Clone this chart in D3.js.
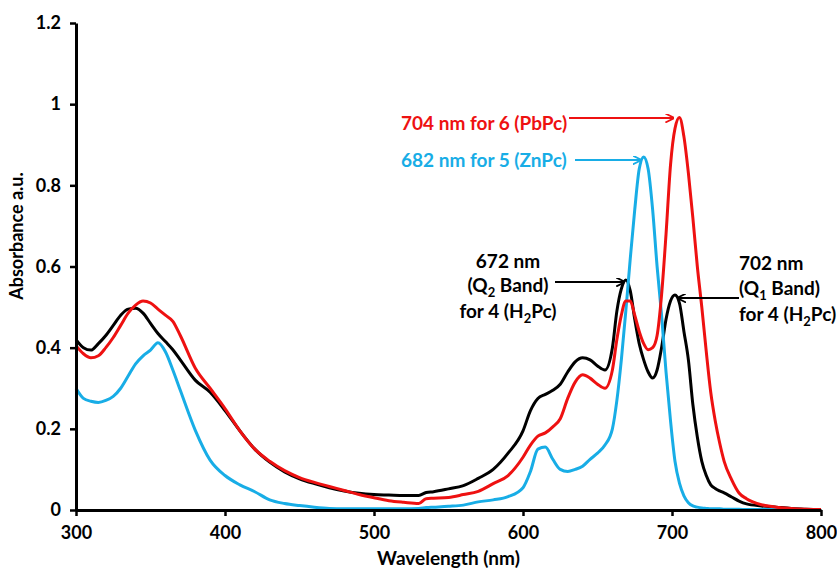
<!DOCTYPE html>
<html lang="en">
<head>
<meta charset="utf-8">
<title>Absorbance spectra</title>
<script src="https://cdn.jsdelivr.net/npm/d3@7/dist/d3.min.js"></script>
<style>
  body { margin: 0; background: #fff; }
  text { font-family: Lato, "Open Sans", sans-serif; font-weight: bold; }
</style>
</head>
<body>
<div id="chart"></div>
<script>
// wavelength grid (nm) shared by the three spectra
const wavelengths = [300,305,310,315,320,325,330,335,340,345,350,355,360,365,370,380,390,400,410,420,430,440,450,460,470,480,490,500,510,520,530,535,540,550,560,570,580,590,600,605,610,615,620,625,630,635,640,645,650,655,660,663,666,669,672,675,678,681,684,687,690,693,696,699,702,705,708,711,714,717,720,723,726,729,732,735,740,745,750,760,770,780,790,800];

// 4 (H2Pc) - black
const h2pc = [0.42,0.40,0.394,0.41,0.43,0.455,0.48,0.495,0.497,0.485,0.46,0.435,0.415,0.395,0.37,0.32,0.29,0.245,0.195,0.15,0.118,0.094,0.077,0.065,0.055,0.047,0.041,0.038,0.037,0.036,0.036,0.043,0.045,0.052,0.06,0.078,0.10,0.14,0.195,0.245,0.275,0.285,0.295,0.31,0.34,0.365,0.375,0.37,0.355,0.345,0.40,0.49,0.545,0.567,0.54,0.47,0.41,0.37,0.34,0.325,0.345,0.40,0.47,0.515,0.53,0.51,0.44,0.37,0.26,0.18,0.12,0.085,0.062,0.053,0.047,0.042,0.032,0.022,0.015,0.01,0.007,0.004,0.002,0.0];

// 6 (PbPc) - red
const pbpc = [0.405,0.385,0.375,0.38,0.40,0.425,0.455,0.485,0.505,0.515,0.51,0.495,0.48,0.465,0.43,0.35,0.30,0.25,0.195,0.15,0.12,0.097,0.08,0.068,0.058,0.048,0.038,0.03,0.023,0.019,0.016,0.028,0.029,0.031,0.038,0.046,0.065,0.085,0.13,0.16,0.182,0.19,0.205,0.225,0.275,0.315,0.333,0.325,0.31,0.30,0.345,0.42,0.48,0.515,0.515,0.48,0.44,0.41,0.395,0.40,0.43,0.53,0.68,0.85,0.94,0.967,0.92,0.83,0.72,0.60,0.50,0.39,0.29,0.22,0.165,0.12,0.075,0.042,0.028,0.013,0.007,0.004,0.002,0.001];

// 5 (ZnPc) - blue
const znpc = [0.30,0.275,0.268,0.265,0.27,0.28,0.30,0.33,0.36,0.38,0.394,0.412,0.39,0.345,0.295,0.197,0.123,0.085,0.062,0.045,0.025,0.016,0.011,0.007,0.004,0.003,0.003,0.003,0.003,0.003,0.004,0.006,0.007,0.009,0.012,0.02,0.025,0.033,0.055,0.095,0.15,0.155,0.125,0.10,0.095,0.10,0.108,0.125,0.14,0.16,0.20,0.27,0.37,0.49,0.62,0.74,0.84,0.87,0.84,0.74,0.60,0.48,0.34,0.22,0.12,0.066,0.035,0.018,0.01,0.007,0.005,0.004,0.003,0.003,0.003,0.002,0.002,0.002,0.001,0.001,0.001,0.001,0.0,0.0];

const xTicks = [300,400,500,600,700,800];
const yTicks = [0,0.2,0.4,0.6,0.8,1,1.2];

const series = [
  {name: "H2Pc", values: h2pc, color: "#000000"},
  {name: "PbPc", values: pbpc, color: "#ee1111"},
  {name: "ZnPc", values: znpc, color: "#18ade6"}
];

const w = 837, h = 569;
const svg = d3.select("#chart").append("svg")
  .attr("width", w).attr("height", h);

const x = d3.scaleLinear().domain([300, 800]).range([76, 821]);
const y = d3.scaleLinear().domain([0, 1.2]).range([510, 23]);

// curves
const line = d3.line()
  .x((d, i) => x(wavelengths[i]))
  .y(d => y(d))
  .curve(d3.curveMonotoneX);

// black drawn first, then blue, red on top
[series[0], series[2], series[1]].forEach(s => {
  svg.append("path")
    .attr("d", line(s.values))
    .attr("fill", "none")
    .attr("stroke", s.color)
    .attr("stroke-width", 3)
    .attr("stroke-linejoin", "round");
});

// axes
const xAxis = svg.append("g")
  .attr("transform", "translate(0," + y(0) + ")")
  .call(d3.axisBottom(x).tickValues(xTicks).tickSize(6).tickSizeOuter(0).tickPadding(10));
const yAxis = svg.append("g")
  .attr("transform", "translate(" + x(300) + ",0)")
  .call(d3.axisLeft(y).tickValues(yTicks).tickFormat(d => d).tickSize(6).tickSizeOuter(0).tickPadding(9));

[xAxis, yAxis].forEach(g => {
  g.select(".domain").attr("stroke", "#000").attr("stroke-width", 3);
  g.selectAll(".tick line").attr("stroke", "#000").attr("stroke-width", 2.5);
  g.selectAll(".tick text").attr("fill", "#000")
    .style("font-size", "18px").style("font-family", "Lato, sans-serif").style("font-weight", "bold");
});

svg.append("text")
  .attr("x", (x(300) + x(800)) / 2).attr("y", 565)
  .attr("text-anchor", "middle")
  .style("font-size", "19px")
  .text("Wavelength (nm)");

svg.append("text")
  .attr("transform", "translate(23,236) rotate(-90)")
  .attr("text-anchor", "middle")
  .style("font-size", "18px")
  .text("Absorbance a.u.");

// arrow markers
const defs = svg.append("defs");
function marker(id, color) {
  defs.append("marker")
    .attr("id", id)
    .attr("viewBox", "0 0 10 10")
    .attr("refX", 9).attr("refY", 5)
    .attr("markerWidth", 9).attr("markerHeight", 9)
    .attr("markerUnits", "userSpaceOnUse")
    .attr("orient", "auto")
    .append("path")
    .attr("d", "M0,0 L10,5 L0,10")
    .attr("fill", "none")
    .attr("stroke", color)
    .attr("stroke-width", 2);
}
marker("arr-red", "#ee1111");
marker("arr-blue", "#18ade6");
marker("arr-black", "#000");

function arrow(x1, y1, x2, y2, color, id) {
  svg.append("line")
    .attr("x1", x1).attr("y1", y1).attr("x2", x2).attr("y2", y2)
    .attr("stroke", color).attr("stroke-width", 2)
    .attr("marker-end", "url(#" + id + ")");
}

// annotations
svg.append("text").attr("x", 401).attr("y", 130).attr("fill", "#ee1111")
  .style("font-size", "19px").text("704 nm for 6 (PbPc)");
arrow(569, 118, x(701), 118, "#ee1111", "arr-red");

svg.append("text").attr("x", 401).attr("y", 167).attr("fill", "#18ade6")
  .style("font-size", "19px").text("682 nm for 5 (ZnPc)");
arrow(575, 160, x(679), 160, "#18ade6", "arr-blue");

// label lines; objects of the form {sub: "2"} become subscripts
function subLabel(tx, ty, anchor, parts) {
  const t = svg.append("text").attr("x", tx).attr("y", ty)
    .attr("text-anchor", anchor).style("font-size", "19px");
  let shift = 0;
  parts.forEach(p => {
    if (typeof p === "object") {
      t.append("tspan").attr("dy", 5).style("font-size", "13px").text(p.sub);
      shift = -5;
    } else {
      t.append("tspan").attr("dy", shift).text(p);
      shift = 0;
    }
  });
}

subLabel(508, 268, "middle", ["672 nm"]);
subLabel(508, 292, "middle", ["(Q", {sub: "2"}, " Band)"]);
subLabel(508, 318, "middle", ["for 4 (H", {sub: "2"}, "Pc)"]);
arrow(555, 282, x(668), 282, "#000", "arr-black");

subLabel(739, 270, "start", ["702 nm"]);
subLabel(739, 295, "start", ["(Q", {sub: "1"}, " Band)"]);
subLabel(739, 321, "start", ["for 4 (H", {sub: "2"}, "Pc)"]);
arrow(739, 298, x(704), 298, "#000", "arr-black");
</script>
</body>
</html>
